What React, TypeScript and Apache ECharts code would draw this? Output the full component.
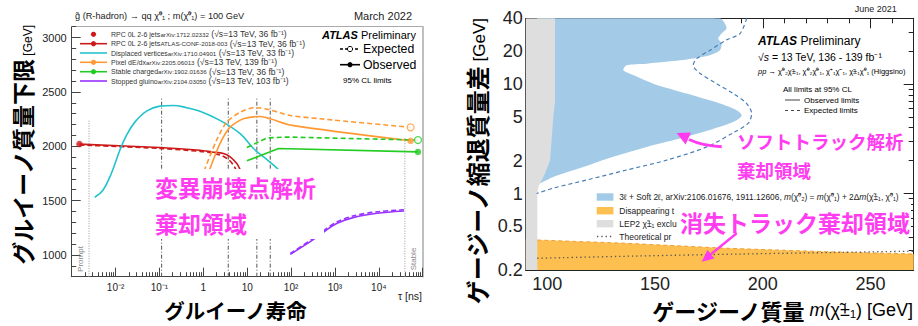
import { useEffect, useRef } from 'react';
import * as echarts from 'echarts';

const LAT = "'Liberation Sans', Arial, Helvetica, sans-serif";
const CJK = "'Noto Sans CJK JP', 'Noto Sans CJK SC', sans-serif";
const MAGENTA = '#ff3cf0';

// ================= Left panel: gluino lifetime tau [ns] vs gluino mass lower limit [GeV]
const tauLabelValues = [0.01, 0.1, 1, 10, 100, 1000, 10000];
const tauDecades = [0.001, 0.01, 0.1, 1, 10, 100, 1000, 10000, 100000];
const massLabelValues = [1000, 1500, 2000, 2500, 3000];

const rpcPromptPoint = [[0.0015, 2020]];
const rpcObserved = [[0.0015, 2020], [0.1, 1988], [0.84, 1963], [1.56, 1948], [2.87, 1933], [4.08, 1902], [5.8, 1841], [6.9, 1786], [8, 1720]];
const rpcExpected = [[0.0015, 2012], [0.1, 1980], [0.84, 1953], [1.56, 1938], [2.6, 1915], [3.7, 1880], [4.8, 1830], [5.6, 1780], [6.5, 1720]];
const dvObserved = [[0.00335, 1531], [0.0052, 1598], [0.008, 1750], [0.0125, 1963], [0.0177, 2100], [0.0275, 2222], [0.0508, 2323], [0.102, 2369], [0.206, 2375], [0.42, 2355], [0.84, 2323], [2.4, 2238], [6.9, 2116], [13.9, 1979], [23.6, 1902], [39.8, 1826], [55, 1775]];
const pixelObserved = [[1.2, 1700], [1.42, 1796], [2.4, 2025], [4.08, 2176], [8.2, 2253], [19.8, 2274], [33.4, 2253], [105, 2192], [53000, 2050]];
const pixelExpected = [[0.95, 1700], [1.1, 1796], [2.0, 2055], [3.4, 2222], [6.9, 2313], [13.9, 2355], [20, 2352], [33, 2335], [96, 2283], [464, 2253], [53000, 2174]];
const stableObserved = [[9.8, 1866], [51.8, 1979], [78000, 1948]];
const stableExpected = [[9.8, 1988], [28, 2076], [80, 2085], [78000, 2057]];
const stoppedObserved = [[96, 1006], [327, 1144], [605, 1223], [1120, 1291], [2700, 1346], [9100, 1383], [37400, 1404]];
const stoppedExpected = [[96, 1014], [327, 1154], [605, 1236], [1120, 1305], [2700, 1361], [9100, 1397], [37400, 1416]];
const pixelEndObserved = [[53000, 2050]];
const pixelEndExpected = [[53000, 2174]];
const stableEndObserved = [[78000, 1948]];
const stableEndExpected = [[78000, 2057]];

const boundaryTaus = [0.112, 3.7, 16.6, 33.5];
const boundaryTop = 2444;
const promptTau = 0.00248;
const promptTop = 2242;
const stableTau = 39300;
const stableTop = 2082;

// ================= Right panel: chargino mass vs mass splitting
const mLabelValues = [100, 150, 200, 250];
const dmLabelValues = [0.2, 0.5, 1, 2, 5, 10, 20, 40];
const dmMajorTicks = [1, 10];
const dmMinorTicks = [0.2, 0.3, 0.4, 0.5, 0.6, 0.7, 0.8, 0.9, 2, 3, 4, 5, 6, 7, 8, 9, 20, 30, 40];

const softObservedRegion = [
  [95.4, 40], [180.1, 40], [182.4, 35.8], [183.2, 32.2], [180.9, 29.0], [179.3, 26.1], [180.9, 23.5], [180.1, 20.4],
  [175.5, 18.4], [161.6, 16.5], [146.1, 15.4], [136.8, 14.9], [135.3, 13.4], [139.9, 12.1], [149.2, 10.1], [164.7, 8.2],
  [180.1, 6.65], [187.9, 5.78], [190.2, 5.21], [187.9, 4.69], [180.1, 4.07], [164.7, 3.3], [146.1, 2.67], [130.6, 2.17],
  [116.7, 1.75], [102.8, 1.42], [96.6, 1.24], [95.4, 1.22],
];
const softExpected = [
  [192.5, 40], [189.4, 29.0], [183.2, 25.4], [175.5, 20.4], [169.3, 17.1], [167.7, 14.9], [170.8, 12.6], [178.6, 10.1],
  [186.3, 8.2], [192.5, 6.65], [194.8, 5.4], [193.3, 4.4], [186.3, 3.6], [174, 2.67], [155.4, 2.02], [136.8, 1.64],
  [118.3, 1.33], [102.8, 1.12], [95.1, 1.0],
];
const disappearingTop = [[95.4, 0.376], [136.8, 0.351], [183.2, 0.316], [229.6, 0.294], [270, 0.28]];
const disappearingRegion = [[90, 0.2], [90, 0.38], ...disappearingTop, [270, 0.2]];
const lep2Region = [[90, 0.2], [95.4, 0.2], [95.4, 1.0], [95.9, 1.15], [99, 1.53], [101.3, 2.02], [102, 3.08], [102.8, 5], [103.6, 7], [103.6, 40], [90, 40]];
const theoryLine = [[95.4, 0.256], [140, 0.268], [190, 0.28], [270, 0.297]];

const tauMinor: number[] = [];
for (let e = -3; e <= 4; e++) for (let k = 2; k <= 9; k++) tauMinor.push(k * Math.pow(10, e));
const massMinor: number[] = [];
for (let v = 800; v <= 3100; v += 100) massMinor.push(v);
const mMinor: number[] = [];
for (let v = 90; v <= 270; v += 10) mMinor.push(v);

const supLabel: Record<string, string> = { '-2': '10⁻²', '-1': '10⁻¹', '0': '1', '1': '10', '2': '10²', '3': '10³', '4': '10⁴' };

function hidden(extra: any) {
  return {
    splitLine: { show: false },
    axisLine: { show: false, onZero: false },
    axisTick: { show: false },
    axisLabel: { show: false },
    ...extra,
  };
}

function polygonSeries(data: number[][], color: string, z: number, smooth: number) {
  return {
    type: 'custom',
    xAxisIndex: 3,
    yAxisIndex: 3,
    z,
    silent: true,
    clip: true,
    data,
    renderItem: (params: any, api: any) => {
      if (params.dataIndex !== 0) return null;
      return {
        type: 'polygon',
        shape: { points: data.map((p) => api.coord(p)), smooth },
        style: { fill: color },
      };
    },
  };
}

function leftLine(data: number[][], color: string, dashed: boolean, smooth: number, width = 1.6) {
  return {
    type: 'line',
    xAxisIndex: 0,
    yAxisIndex: 0,
    data,
    symbol: 'none',
    smooth,
    silent: true,
    z: 3,
    lineStyle: { color, width, type: dashed ? [5, 3] : 'solid' },
  };
}

function vline(tau: number, top: number, color: string, type: any) {
  return {
    type: 'line',
    xAxisIndex: 0,
    yAxisIndex: 0,
    data: [[tau, 800], [tau, top]],
    symbol: 'none',
    silent: true,
    z: 1,
    lineStyle: { color, width: 1, type },
  };
}

function marker(data: number[][], color: string, open: boolean) {
  return {
    type: 'scatter',
    xAxisIndex: 0,
    yAxisIndex: 0,
    data,
    symbol: 'circle',
    symbolSize: open ? 7 : 6.5,
    silent: true,
    z: 4,
    itemStyle: open ? { color: '#fff', borderColor: color, borderWidth: 1.2 } : { color },
  };
}

const RED = '#cc1a1a';
const CYAN = '#22c3cc';
const ORANGE = '#ff9933';
const GREEN = '#22cc22';
const PURPLE = '#9933ff';

const legendRows = [
  { y: 34.3, color: RED, line: false, dot: true, main: 'RPC 0L 2-6 jets', ref: 'arXiv:1712.02332', tail: ' (√s=13 TeV, 36 fb⁻¹)' },
  { y: 43.7, color: RED, line: true, dot: true, main: 'RPC 0L 2-6 jets', ref: 'ATLAS-CONF-2018-003', tail: ' (√s=13 TeV, 36 fb⁻¹)' },
  { y: 53.0, color: CYAN, line: true, dot: false, main: 'Displaced vertices', ref: 'arXiv:1710.04901', tail: ' (√s=13 TeV, 33 fb⁻¹)' },
  { y: 62.3, color: ORANGE, line: true, dot: true, main: 'Pixel dE/dx', ref: 'arXiv:2205.06013', tail: ' (√s=13 TeV, 139 fb⁻¹)' },
  { y: 71.7, color: GREEN, line: true, dot: true, main: 'Stable charged', ref: 'arXiv:1902.01636', tail: ' (√s=13 TeV, 36 fb⁻¹)' },
  { y: 81.0, color: PURPLE, line: true, dot: false, main: 'Stopped gluino', ref: 'arXiv:2104.03050', tail: ' (√s=13 TeV, 103 fb⁻¹)' },
];

function buildGraphic() {
  const g: any[] = [];
  const txt = (x: number, y: number, text: string, fontSize: number, extra: any = {}, elExtra: any = {}) =>
    g.push({
      type: 'text', x, y, z: 20, silent: true, ...elExtra,
      style: { text, fontSize, fontFamily: LAT, fill: '#222', verticalAlign: 'middle', ...extra },
    });

  // ---------- left panel texts
  txt(75, 16, 'g̃ (R-hadron) → qq χ̃⁰₁ ; m(χ̃⁰₁) = 100 GeV', 9.2);
  txt(412, 16, 'March 2022', 11, { align: 'right' });
  legendRows.forEach((r) => {
    if (r.line) g.push({ type: 'line', z: 20, silent: true, shape: { x1: 80, y1: r.y, x2: 107, y2: r.y }, style: { stroke: r.color, lineWidth: 1.6 } });
    if (r.dot) g.push({ type: 'circle', z: 21, silent: true, shape: { cx: 93.5, cy: r.y, r: 2.6 }, style: { fill: r.color } });
    txt(111, r.y, `{m|${r.main}}{s|${r.ref}}{t|${r.tail}}`, 7, {
      rich: {
        m: { fontSize: 7, fontFamily: LAT, fill: '#333' },
        s: { fontSize: 6.2, fontFamily: LAT, fill: '#333' },
        t: { fontSize: 8.6, fontFamily: LAT, fill: '#333' },
      },
    });
  });
  txt(322, 35, '{b|ATLAS}{n| Preliminary}', 11, {
    rich: {
      b: { fontSize: 11, fontWeight: 'bold', fontStyle: 'italic', fontFamily: LAT, fill: '#000' },
      n: { fontSize: 11, fontFamily: LAT, fill: '#000' },
    },
  });
  g.push({ type: 'line', z: 20, silent: true, shape: { x1: 340, y1: 49, x2: 360, y2: 49 }, style: { stroke: '#000', lineWidth: 1.4, lineDash: [3, 2] } });
  g.push({ type: 'circle', z: 21, silent: true, shape: { cx: 350, cy: 49, r: 2.6 }, style: { fill: '#fff', stroke: '#000', lineWidth: 1 } });
  txt(363, 49, 'Expected', 12.3, { fill: '#000' });
  g.push({ type: 'line', z: 20, silent: true, shape: { x1: 340, y1: 64.7, x2: 360, y2: 64.7 }, style: { stroke: '#000', lineWidth: 1.6 } });
  g.push({ type: 'circle', z: 21, silent: true, shape: { cx: 350, cy: 64.7, r: 2.6 }, style: { fill: '#000' } });
  txt(363, 64.7, 'Observed', 12.3, { fill: '#000' });
  txt(343, 80, '95% CL limits', 8, { fill: '#000' });

  txt(80, 259, 'Prompt', 8, { fill: '#888', align: 'center' }, { rotation: Math.PI / 2 });
  txt(413, 259, 'Stable', 8, { fill: '#888', align: 'center' }, { rotation: Math.PI / 2 });
  txt(422, 296, 'τ [ns]', 10.5, { align: 'right' });

  g.push({
    type: 'text', x: 235.5, y: 309.5, z: 20, silent: true,
    style: { text: 'グルイーノ寿命', fontSize: 20.5, fontWeight: 'bold', fontFamily: CJK, fill: '#000', align: 'center', verticalAlign: 'middle' },
  });
  g.push({
    type: 'text', x: 22, y: 25, z: 20, silent: true, rotation: Math.PI / 2,
    style: {
      text: '{b|グルイーノ質量下限}{s| [GeV]}', align: 'right', verticalAlign: 'middle',
      rich: {
        b: { fontSize: 23, fontWeight: 'bold', fontFamily: CJK, fill: '#000' },
        s: { fontSize: 12, fontFamily: LAT, fill: '#000', verticalAlign: 'bottom' },
      },
    },
  });

  // left annotation with white background
  g.push({ type: 'rect', z: 30, silent: true, shape: { x: 152, y: 169, width: 172, height: 70 }, style: { fill: '#fff' } });
  g.push({ type: 'text', x: 155, y: 187.3, z: 31, silent: true, style: { text: '変異崩壊点解析', fontSize: 23, fontWeight: 'bold', fontFamily: CJK, fill: MAGENTA, verticalAlign: 'middle' } });
  g.push({ type: 'text', x: 155, y: 222.5, z: 31, silent: true, style: { text: '棄却領域', fontSize: 23, fontWeight: 'bold', fontFamily: CJK, fill: MAGENTA, verticalAlign: 'middle' } });

  // ---------- right panel texts
  txt(896.7, 8.5, 'June 2021', 9, { align: 'right' });
  txt(758, 41, '{b|ATLAS}{n| Preliminary}', 12, {
    rich: {
      b: { fontSize: 12, fontWeight: 'bold', fontStyle: 'italic', fontFamily: LAT, fill: '#000' },
      n: { fontSize: 12, fontFamily: LAT, fill: '#000' },
    },
  });
  txt(758, 56.5, '{n|√}{i|s}{n| = 13 TeV, 136 - 139 fb⁻¹}', 10.5, {
    rich: {
      n: { fontSize: 10.5, fontFamily: LAT, fill: '#000' },
      i: { fontSize: 10.5, fontStyle: 'italic', fontFamily: LAT, fill: '#000' },
    },
  });
  txt(758, 71, '{i|pp}{n| → χ̃⁰₂χ̃±₁, χ̃⁰₂χ̃⁰₁, χ̃⁺₁χ̃⁻₁, χ̃±₁χ̃⁰₁ (Higgsino)}', 7.5, {
    rich: {
      n: { fontSize: 7.5, fontFamily: LAT, fill: '#000' },
      i: { fontSize: 7.5, fontStyle: 'italic', fontFamily: LAT, fill: '#000' },
    },
  });
  txt(783, 89.3, 'All limits at 95% CL', 8, { fill: '#000' });
  g.push({ type: 'line', z: 20, silent: true, shape: { x1: 785, y1: 100, x2: 800, y2: 100 }, style: { stroke: '#444', lineWidth: 1 } });
  txt(804, 100, 'Observed limits', 8, { fill: '#000' });
  g.push({ type: 'line', z: 20, silent: true, shape: { x1: 785, y1: 110.5, x2: 800, y2: 110.5 }, style: { stroke: '#444', lineWidth: 1, lineDash: [3, 3] } });
  txt(804, 110.5, 'Expected limits', 8, { fill: '#000' });

  // soft track annotation + arrow
  g.push({ type: 'text', x: 737, y: 141, z: 31, silent: true, style: { text: 'ソフトトラック解析', fontSize: 18.5, fontWeight: 'bold', fontFamily: CJK, fill: MAGENTA, verticalAlign: 'middle' } });
  g.push({ type: 'text', x: 737, y: 170, z: 31, silent: true, style: { text: '棄却領域', fontSize: 18.5, fontWeight: 'bold', fontFamily: CJK, fill: MAGENTA, verticalAlign: 'middle' } });
  g.push({ type: 'bezierCurve', z: 31, silent: true, shape: { x1: 721.7, y1: 146.7, cpx1: 703, cpy1: 146, x2: 689, y2: 139.5 }, style: { stroke: MAGENTA, lineWidth: 3, fill: 'none' } });
  g.push({ type: 'polygon', z: 31, silent: true, shape: { points: [[676.5, 133], [691, 132.6], [685.6, 144.4]] }, style: { fill: MAGENTA } });

  // right legend
  g.push({ type: 'rect', z: 20, silent: true, shape: { x: 596.7, y: 193.3, width: 16.7, height: 7.4 }, style: { fill: '#a3cbe8' } });
  txt(619.3, 197, '{n|3ℓ + Soft 2ℓ, arXiv:2106.01676, 1911.12606, }{i|m}{n|(χ̃⁰₂) = }{i|m}{n|(χ̃⁰₁) + 2Δ}{i|m}{n|(χ̃±₁, χ̃⁰₁)}', 8.4, {
    rich: {
      n: { fontSize: 8.4, fontFamily: LAT, fill: '#222' },
      i: { fontSize: 8.4, fontStyle: 'italic', fontFamily: LAT, fill: '#222' },
    },
  });
  g.push({ type: 'rect', z: 20, silent: true, shape: { x: 596.7, y: 207, width: 16.7, height: 7.4 }, style: { fill: '#fdbf50' } });
  txt(619.3, 210.7, 'Disappearing t', 8.5);
  g.push({ type: 'rect', z: 20, silent: true, shape: { x: 596.7, y: 220, width: 16.7, height: 7.4 }, style: { fill: '#dedede' } });
  txt(619.3, 223.7, 'LEP2 χ̃±₁ exclu', 8.5);
  g.push({ type: 'line', z: 20, silent: true, shape: { x1: 597, y1: 236.5, x2: 613, y2: 236.5 }, style: { stroke: '#555', lineWidth: 1.3, lineDash: [1.3, 3] } });
  txt(619.3, 236.5, 'Theoretical pr', 8.5);

  g.push({ type: 'rect', z: 30, silent: true, shape: { x: 677, y: 204, width: 234, height: 30 }, style: { fill: '#fff' } });
  g.push({ type: 'text', x: 680, y: 221.7, z: 31, silent: true, style: { text: '消失トラック棄却領域', fontSize: 23, fontWeight: 'bold', fontFamily: CJK, fill: MAGENTA, verticalAlign: 'middle' } });
  g.push({ type: 'line', z: 31, silent: true, shape: { x1: 736.7, y1: 233.3, x2: 711, y2: 254.1 }, style: { stroke: MAGENTA, lineWidth: 2.5 } });
  g.push({ type: 'polygon', z: 31, silent: true, shape: { points: [[701.7, 261.7], [714.5, 258.4], [707.5, 249.8]] }, style: { fill: MAGENTA } });

  // axis titles
  g.push({
    type: 'text', x: 913, y: 310, z: 20, silent: true,
    style: {
      text: '{b|ゲージーノ質量}{s| }{i|m}{s|(χ̃±₁) [GeV]}', align: 'right', verticalAlign: 'middle',
      rich: {
        b: { fontSize: 22, fontWeight: 'bold', fontFamily: CJK, fill: '#000' },
        s: { fontSize: 18, fontFamily: LAT, fill: '#000' },
        i: { fontSize: 18, fontStyle: 'italic', fontFamily: LAT, fill: '#000' },
      },
    },
  });
  g.push({
    type: 'text', x: 476, y: 18, z: 20, silent: true, rotation: Math.PI / 2,
    style: {
      text: '{b|ゲージーノ縮退質量差}{s| [GeV]}', align: 'right', verticalAlign: 'middle',
      rich: {
        b: { fontSize: 24, fontWeight: 'bold', fontFamily: CJK, fill: '#000' },
        s: { fontSize: 17, fontFamily: LAT, fill: '#000', verticalAlign: 'bottom' },
      },
    },
  });
  return g;
}

function buildOption(): any {
  const logX = { type: 'log', logBase: 10, min: 0.001, max: 100000, gridIndex: 0 };
  const massY = { type: 'value', min: 800, max: 3100, gridIndex: 0 };
  const mX = { type: 'value', min: 90, max: 270, gridIndex: 1 };
  const dmY = { type: 'log', logBase: 10, min: 0.2, max: 40, gridIndex: 1 };
  const darkL = { color: '#444', width: 1 };
  const blackL = { color: '#222', width: 1 };

  return {
    animation: false,
    backgroundColor: '#fff',
    grid: [
      { left: 71.7, top: 26.7, width: 351, height: 250 },
      { left: 525.7, top: 18.3, width: 388, height: 251.7 },
    ],
    xAxis: [
      hidden({
        ...logX, position: 'bottom',
        axisLine: { show: true, onZero: false, lineStyle: darkL },
        axisTick: { show: true, inside: true, length: 9, customValues: tauDecades, lineStyle: darkL },
        axisLabel: {
          show: true, customValues: tauLabelValues, fontSize: 10, color: '#222', fontFamily: LAT, margin: 6,
          formatter: (v: number) => supLabel[String(Math.round(Math.log10(v)))] ?? '',
        },
      }),
      hidden({ ...logX, position: 'bottom', axisTick: { show: true, inside: true, length: 4.5, customValues: tauMinor, lineStyle: darkL } }),
      hidden({ ...logX, position: 'top', axisLine: { show: true, onZero: false, lineStyle: { color: '#aaa', width: 1 } } }),
      hidden({
        ...mX, position: 'bottom',
        axisLine: { show: true, onZero: false, lineStyle: blackL },
        axisTick: { show: true, inside: true, length: 10, customValues: mLabelValues, lineStyle: blackL },
        axisLabel: { show: true, customValues: mLabelValues, fontSize: 18, color: '#222', fontFamily: LAT, margin: 5, formatter: (v: number) => String(v) },
      }),
      hidden({ ...mX, position: 'bottom', axisTick: { show: true, inside: true, length: 5, customValues: mMinor, lineStyle: blackL } }),
      hidden({
        ...mX, position: 'top',
        axisLine: { show: true, onZero: false, lineStyle: blackL },
        axisTick: { show: true, inside: true, length: 10, customValues: mLabelValues, lineStyle: blackL },
      }),
      hidden({ ...mX, position: 'top', axisTick: { show: true, inside: true, length: 5, customValues: mMinor, lineStyle: blackL } }),
    ],
    yAxis: [
      hidden({
        ...massY, position: 'left',
        axisLine: { show: true, onZero: false, lineStyle: darkL },
        axisTick: { show: true, inside: true, length: 9, customValues: massLabelValues, lineStyle: darkL },
        axisLabel: { show: true, customValues: massLabelValues, fontSize: 11, color: '#222', fontFamily: LAT, margin: 5, formatter: (v: number) => String(v) },
      }),
      hidden({ ...massY, position: 'left', axisTick: { show: true, inside: true, length: 4.5, customValues: massMinor, lineStyle: darkL } }),
      hidden({ ...massY, position: 'right', axisLine: { show: true, onZero: false, lineStyle: { color: '#aaa', width: 1.5 } } }),
      hidden({
        ...dmY, position: 'left',
        axisLine: { show: true, onZero: false, lineStyle: blackL },
        axisTick: { show: true, inside: true, length: 10, customValues: dmMajorTicks, lineStyle: blackL },
        axisLabel: {
          show: true, customValues: dmLabelValues, fontSize: 18, color: '#222', fontFamily: LAT, margin: 3,
          formatter: (v: number) => String(Number(v.toPrecision(3))),
        },
      }),
      hidden({ ...dmY, position: 'left', axisTick: { show: true, inside: true, length: 5, customValues: dmMinorTicks, lineStyle: blackL } }),
      hidden({
        ...dmY, position: 'right',
        axisLine: { show: true, onZero: false, lineStyle: blackL },
        axisTick: { show: true, inside: true, length: 10, customValues: dmMajorTicks, lineStyle: blackL },
      }),
      hidden({ ...dmY, position: 'right', axisTick: { show: true, inside: true, length: 5, customValues: dmMinorTicks, lineStyle: blackL } }),
    ],
    series: [
      // left panel reference lines
      ...boundaryTaus.map((t) => vline(t, boundaryTop, '#555', [4, 2, 1, 2])),
      vline(promptTau, promptTop, '#999', [1, 1.5]),
      vline(stableTau, stableTop, '#999', [1, 1.5]),
      // left panel limits
      leftLine(rpcExpected, RED, true, 0.3),
      leftLine(rpcObserved, RED, false, 0.3),
      leftLine(dvObserved, CYAN, false, 0.4),
      leftLine(pixelExpected, ORANGE, true, 0.25),
      leftLine(pixelObserved, ORANGE, false, 0.25),
      leftLine(stableExpected, GREEN, true, 0),
      leftLine(stableObserved, GREEN, false, 0),
      leftLine(stoppedExpected, PURPLE, true, 0.3),
      leftLine(stoppedObserved, PURPLE, false, 0.3),
      marker(rpcPromptPoint, RED, false),
      marker(pixelEndObserved, ORANGE, false),
      marker(pixelEndExpected, ORANGE, true),
      marker(stableEndObserved, GREEN, false),
      marker(stableEndExpected, GREEN, true),
      // right panel
      polygonSeries(disappearingRegion, '#fdbf50', 1, 0),
      polygonSeries(softObservedRegion, '#a3cbe8', 1, 0.25),
      polygonSeries(lep2Region, '#dedede', 2, 0),
      {
        type: 'line', xAxisIndex: 3, yAxisIndex: 3, data: disappearingTop, symbol: 'none', silent: true, z: 3,
        lineStyle: { color: '#f0a035', width: 1, type: [4, 3] },
      },
      {
        type: 'line', xAxisIndex: 3, yAxisIndex: 3, data: theoryLine, symbol: 'none', silent: true, z: 3, smooth: 0.3,
        lineStyle: { color: '#555', width: 1.3, type: [1.3, 3] },
      },
      {
        type: 'line', xAxisIndex: 3, yAxisIndex: 3, data: softExpected, symbol: 'none', silent: true, z: 3, smooth: 0.3,
        lineStyle: { color: '#4a7db5', width: 1.2, type: [4, 3] },
      },
    ],
    graphic: buildGraphic(),
  };
}

export default function App() {
  const ref = useRef<HTMLDivElement>(null);
  useEffect(() => {
    const chart = echarts.init(ref.current!, null, { renderer: 'svg' });
    chart.setOption(buildOption());
    return () => chart.dispose();
  }, []);
  return <div ref={ref} style={{ position: 'fixed', left: 0, top: 0, width: 918, height: 326, background: '#fff' }} />;
}
